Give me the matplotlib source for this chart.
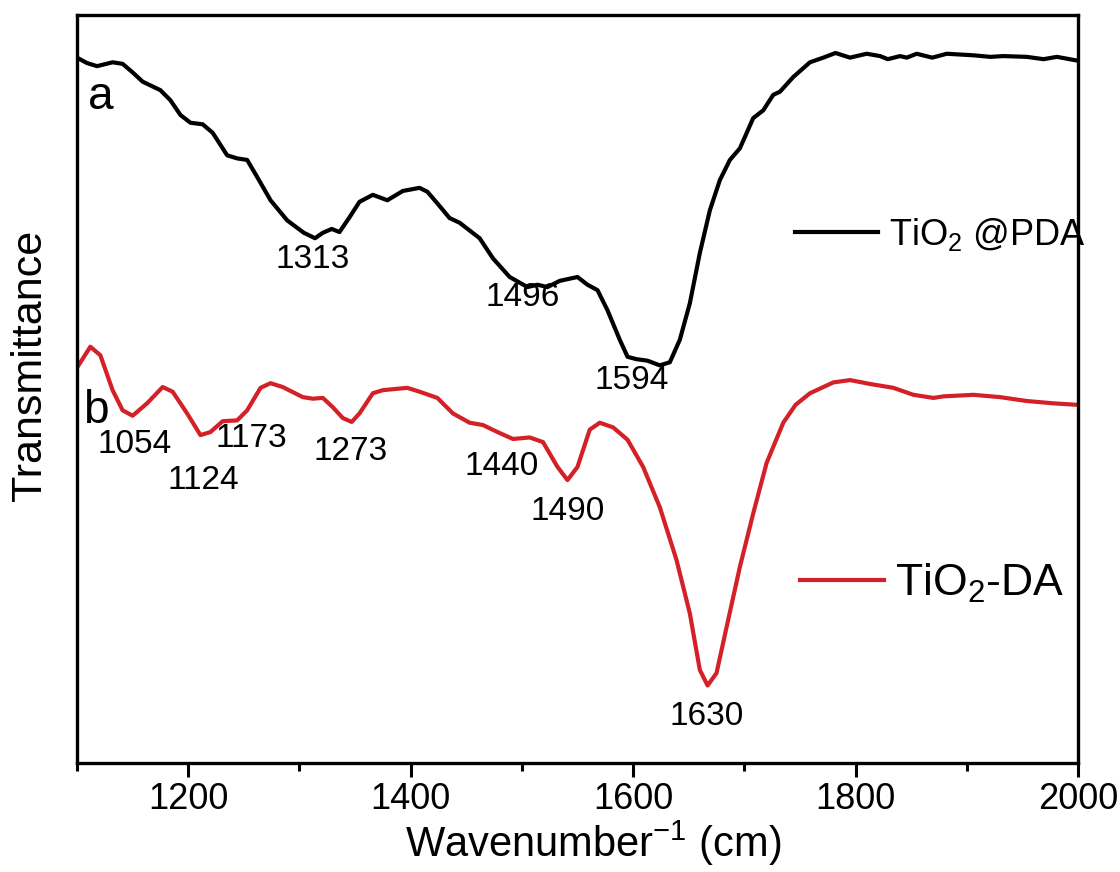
import matplotlib
matplotlib.use("Agg")
import matplotlib.pyplot as plt
from matplotlib.lines import Line2D
from matplotlib.ticker import MultipleLocator

# ---------------- data ----------------
wn_a = [1100, 1109, 1118, 1132, 1141, 1150, 1159, 1175, 1184, 1193, 1202, 1213, 1222,
        1235, 1244, 1253, 1262, 1274, 1289, 1304, 1314, 1321, 1329, 1336, 1345, 1354,
        1366, 1379, 1393, 1408, 1415, 1424, 1435, 1444, 1462, 1474, 1489, 1505, 1514,
        1523, 1534, 1550, 1559, 1568, 1577, 1588, 1595, 1603, 1613, 1624, 1633, 1642,
        1651, 1660, 1669, 1678, 1687, 1696, 1708, 1717, 1726, 1732, 1744, 1759, 1771,
        1782, 1795, 1810, 1822, 1829, 1840, 1846, 1855, 1869, 1882, 1906, 1921, 1933,
        1954, 1969, 1981, 2000]
t_a = [94.5, 93.8, 93.4, 93.9, 93.7, 92.6, 91.4, 90.3, 89.0, 87.1, 86.1, 85.9, 84.8,
       81.9, 81.5, 81.3, 79.1, 76.1, 73.5, 71.9, 71.2, 71.9, 72.4, 72.0, 73.9, 75.9,
       76.8, 76.1, 77.3, 77.7, 77.2, 75.7, 73.8, 73.2, 71.2, 68.6, 66.2, 64.9, 65.2,
       64.9, 65.7, 66.2, 65.2, 64.5, 61.9, 58.1, 55.9, 55.6, 55.4, 54.8, 55.2, 58.1,
       62.8, 69.3, 74.8, 78.7, 81.3, 82.8, 86.7, 87.7, 89.7, 90.1, 92.0, 93.9, 94.5,
       95.1, 94.5, 95.0, 94.7, 94.3, 94.7, 94.5, 95.0, 94.5, 95.0, 94.8, 94.6, 94.7,
       94.6, 94.3, 94.6, 94.1]

wn_b = [1100, 1112, 1121, 1132, 1141, 1150, 1163, 1177, 1186, 1199, 1211, 1220, 1231,
        1244, 1253, 1265, 1274, 1285, 1303, 1312, 1321, 1330, 1339, 1347, 1354, 1366,
        1375, 1397, 1408, 1424, 1438, 1453, 1465, 1478, 1492, 1507, 1519, 1532, 1541,
        1550, 1561, 1570, 1582, 1595, 1609, 1624, 1639, 1651, 1660, 1667, 1675, 1684,
        1696, 1708, 1720, 1735, 1746, 1759, 1780, 1795, 1813, 1834, 1852, 1870, 1879,
        1906, 1930, 1954, 1978, 2000]
t_b = [54.5, 57.2, 56.1, 51.6, 49.0, 48.3, 49.9, 52.0, 51.4, 48.6, 45.8, 46.2, 47.6,
       47.7, 49.0, 51.9, 52.5, 52.0, 50.7, 50.5, 50.6, 49.4, 48.0, 47.5, 48.6, 51.2,
       51.6, 51.9, 51.4, 50.6, 48.6, 47.4, 47.1, 46.2, 45.3, 45.5, 44.9, 41.7, 40.0,
       41.7, 46.5, 47.4, 46.8, 45.2, 41.7, 36.5, 29.7, 22.8, 15.5, 13.5, 15.1, 21.0,
       28.8, 35.7, 42.2, 47.4, 49.7, 51.2, 52.6, 52.9, 52.4, 51.9, 51.0, 50.6, 50.8,
       51.0, 50.7, 50.2, 49.9, 49.7]

# peak labels: (text, x, y)
peaks_a = [("1313", 1312, 68.5), ("1496", 1501, 63.6), ("1594", 1599, 52.9)]
peaks_b = [("1054", 1152, 44.6), ("1124", 1214, 39.9), ("1173", 1257, 45.4),
           ("1273", 1346, 43.7), ("1440", 1482, 41.8), ("1490", 1541, 35.9),
           ("1630", 1666, 9.5)]
curve_tags = [("a", 1121, 89.4), ("b", 1117, 48.9)]

label_a = r"TiO$_{\mathregular{2}}$ @PDA"
label_b = r"TiO$_{\mathregular{2}}$-DA"
xticks = [1200, 1400, 1600, 1800, 2000]

# ---------------- style ----------------
FONT = ["Liberation Sans", "DejaVu Sans"]
plt.rcParams["font.family"] = FONT
plt.rcParams["mathtext.fontset"] = "custom"
plt.rcParams["mathtext.rm"] = "Liberation Sans"
plt.rcParams["mathtext.it"] = "Liberation Sans:italic"
plt.rcParams["mathtext.bf"] = "Liberation Sans:bold"

RED = "#d42027"
fig = plt.figure(figsize=(11.2, 8.72), dpi=100)
ax = fig.add_axes([77 / 1120, (872 - 763) / 872, 1001 / 1120, 748 / 872])

ax.plot(wn_a, t_a, color="black", lw=3.0, solid_joinstyle="round",
        solid_capstyle="round")
ax.plot(wn_b, t_b, color=RED, lw=3.0, solid_joinstyle="round",
        solid_capstyle="round")

ax.set_xlim(1100, 2000)
ax.set_ylim(3.5, 100)
ax.set_xticks(xticks)
ax.xaxis.set_minor_locator(MultipleLocator(100))
ax.set_yticks([])
ax.tick_params(axis="x", which="major", direction="out", length=10, width=2.2,
               labelsize=26, pad=4)
ax.tick_params(axis="x", which="minor", direction="out", length=6, width=2.2)
for s in ax.spines.values():
    s.set_linewidth(2.4)

ax.set_xlabel(r"Wavenumber$^{\mathregular{-1}}$ (cm)", fontsize=30)
ax.xaxis.set_label_coords(0.516, -0.074)
ax.set_ylabel("Transmittance", fontsize=31)
ax.yaxis.set_label_coords(-0.027, 0.531)

for txt, x, y in peaks_a + peaks_b:
    ax.text(x, y, txt, fontsize=24, ha="center", va="center")
for txt, x, y in curve_tags:
    ax.text(x, y, txt, fontsize=33, ha="center", va="center")

leg1 = ax.legend([Line2D([], [], color="black", lw=3.0)], [label_a],
                 loc="center left", bbox_to_anchor=(0.717, 0.707), frameon=False,
                 fontsize=26, handlelength=2.3, handletextpad=0.3,
                 borderpad=0, borderaxespad=0)
ax.add_artist(leg1)
ax.legend([Line2D([], [], color=RED, lw=3.0)], [label_b],
          loc="center left", bbox_to_anchor=(0.722, 0.240), frameon=False,
          fontsize=32, handlelength=1.9, handletextpad=0.25,
          borderpad=0, borderaxespad=0)

fig.savefig("out.png", dpi=100)
